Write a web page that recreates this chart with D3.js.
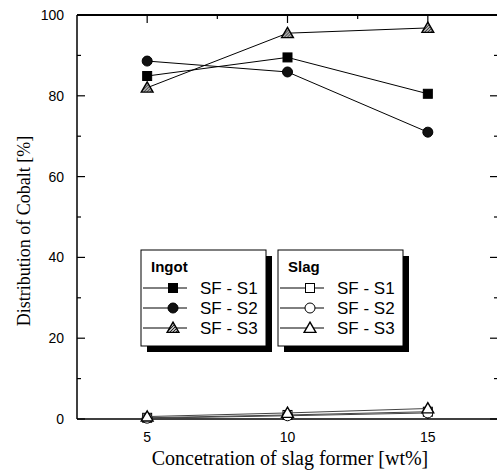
<!DOCTYPE html>
<html>
<head>
<meta charset="utf-8">
<script src="https://cdn.jsdelivr.net/npm/d3@7"></script>
<style>
  body { margin: 0; background: #fff; }
  svg { display: block; }
</style>
</head>
<body>
<div id="chart"></div>
<script>
// data
var concentrations = [5, 10, 15];
var seriesNames = ["SF - S1", "SF - S2", "SF - S3"];
var ingotS1 = [84.9, 89.5, 80.5];
var ingotS2 = [88.6, 85.9, 71.0];
var ingotS3 = [82.0, 95.5, 96.8];
var slagS1 = [0.3, 1.0, 1.8];
var slagS2 = [0.2, 0.8, 1.5];
var slagS3 = [0.6, 1.5, 2.6];
var xMajorTicks = [5, 10, 15];
var yMajorTicks = [0, 20, 40, 60, 80, 100];

var width = 497, height = 470;
var svg = d3.select("#chart").append("svg")
  .attr("width", width)
  .attr("height", height);

var defs = svg.append("defs");
var hatch = defs.append("pattern")
  .attr("id", "hatch")
  .attr("patternUnits", "userSpaceOnUse")
  .attr("width", 3).attr("height", 3);
hatch.append("rect").attr("width", 3).attr("height", 3).attr("fill", "#bbb");
hatch.append("path").attr("d", "M0,3 L3,0").attr("stroke", "#222").attr("stroke-width", 1);

// right edge of the frame sits just outside the window
var x = d3.scaleLinear().domain([2.5, 17.5]).range([77, 498]);
var y = d3.scaleLinear().domain([0, 100]).range([419, 15]);

var frame = svg.append("g");

// frame lines
frame.append("line").attr("x1", x(2.5)).attr("x2", x(2.5)).attr("y1", y(100)).attr("y2", y(0))
  .attr("stroke", "#000").attr("stroke-width", 1.5);
frame.append("line").attr("x1", x(2.5)).attr("x2", x(17.5)).attr("y1", y(100)).attr("y2", y(100))
  .attr("stroke", "#000").attr("stroke-width", 1.8);
frame.append("line").attr("x1", x(2.5)).attr("x2", x(17.5)).attr("y1", y(0)).attr("y2", y(0))
  .attr("stroke", "#000").attr("stroke-width", 1.5);

// y ticks (left and right, inward)
var yMinor = d3.range(10, 100, 20);
yMajorTicks.forEach(function(v) {
  frame.append("line").attr("x1", x(2.5)).attr("x2", x(2.5) + 8).attr("y1", y(v)).attr("y2", y(v))
    .attr("stroke", "#000").attr("stroke-width", 1.2);
  frame.append("line").attr("x1", x(17.5)).attr("x2", x(17.5) - 8).attr("y1", y(v)).attr("y2", y(v))
    .attr("stroke", "#000").attr("stroke-width", 1.2);
});
yMinor.forEach(function(v) {
  frame.append("line").attr("x1", x(2.5)).attr("x2", x(2.5) + 4).attr("y1", y(v)).attr("y2", y(v))
    .attr("stroke", "#000").attr("stroke-width", 1.2);
  frame.append("line").attr("x1", x(17.5)).attr("x2", x(17.5) - 4).attr("y1", y(v)).attr("y2", y(v))
    .attr("stroke", "#000").attr("stroke-width", 1.2);
});

// x ticks (top and bottom, inward)
xMajorTicks.forEach(function(v) {
  frame.append("line").attr("x1", x(v)).attr("x2", x(v)).attr("y1", y(100)).attr("y2", y(100) + 8)
    .attr("stroke", "#000").attr("stroke-width", 1.2);
  frame.append("line").attr("x1", x(v)).attr("x2", x(v)).attr("y1", y(0)).attr("y2", y(0) - 6)
    .attr("stroke", "#000").attr("stroke-width", 1.2);
});
[7.5, 12.5].forEach(function(v) {
  frame.append("line").attr("x1", x(v)).attr("x2", x(v)).attr("y1", y(100)).attr("y2", y(100) + 4)
    .attr("stroke", "#000").attr("stroke-width", 1.2);
});

// tick labels
frame.selectAll(".ylab").data(yMajorTicks).enter().append("text")
  .attr("x", 64).attr("y", function(d) { return y(d) + 5; })
  .attr("text-anchor", "end")
  .style("font-family", "Arial, 'Liberation Sans', sans-serif").style("font-size", "14px")
  .text(function(d) { return d; });
frame.selectAll(".xlab").data(xMajorTicks).enter().append("text")
  .attr("x", function(d) { return x(d); }).attr("y", 442)
  .attr("text-anchor", "middle")
  .style("font-family", "Arial, 'Liberation Sans', sans-serif").style("font-size", "14px")
  .text(function(d) { return d; });

// axis titles
svg.append("text")
  .attr("transform", "translate(30,231) rotate(-90)")
  .attr("text-anchor", "middle")
  .style("font-family", "'Liberation Serif', 'Times New Roman', serif").style("font-size", "18px")
  .text("Distribution of Cobalt [%]");
svg.append("text")
  .attr("x", 290).attr("y", 465)
  .attr("text-anchor", "middle")
  .style("font-family", "'Liberation Serif', 'Times New Roman', serif").style("font-size", "20px")
  .text("Concetration of slag former [wt%]");

// series
var line = d3.line()
  .x(function(d, i) { return x(concentrations[i]); })
  .y(function(d) { return y(d); });

function marker(g, shape, filled, cx, cy) {
  if (shape === "square") {
    g.append("rect").attr("x", cx - 4.5).attr("y", cy - 4.5).attr("width", 9).attr("height", 9)
      .attr("fill", filled ? "#000" : "#fff").attr("stroke", "#000").attr("stroke-width", 1);
  } else if (shape === "circle") {
    g.append("circle").attr("cx", cx).attr("cy", cy).attr("r", 5)
      .attr("fill", filled ? "#111" : "#fff").attr("stroke", "#000").attr("stroke-width", 1);
  } else {
    var s = d3.symbol().type(d3.symbolTriangle).size(60);
    g.append("path").attr("d", s).attr("transform", "translate(" + cx + "," + (cy + 1) + ")")
      .attr("fill", filled ? "url(#hatch)" : "#fff").attr("stroke", "#000").attr("stroke-width", 1.4);
  }
}

var series = [
  { values: slagS1, shape: "square", filled: false },
  { values: slagS2, shape: "circle", filled: false },
  { values: slagS3, shape: "triangle", filled: false },
  { values: ingotS1, shape: "square", filled: true },
  { values: ingotS2, shape: "circle", filled: true },
  { values: ingotS3, shape: "triangle", filled: true }
];

series.forEach(function(s) {
  var g = svg.append("g");
  g.append("path").datum(s.values).attr("d", line)
    .attr("fill", "none").attr("stroke", s.filled ? "#000" : "#444").attr("stroke-width", 1);
  s.values.forEach(function(v, i) {
    marker(g, s.shape, s.filled, x(concentrations[i]), y(v));
  });
});

// legends
function legend(x0, title, filled) {
  var g = svg.append("g").attr("transform", "translate(" + x0 + ",250)");
  var w = 125, h = 96;
  g.append("rect").attr("x", 6).attr("y", 6).attr("width", w).attr("height", h).attr("fill", "#000");
  g.append("rect").attr("x", 0).attr("y", 0).attr("width", w).attr("height", h)
    .attr("fill", "#fff").attr("stroke", "#000").attr("stroke-width", 1);
  g.append("text").attr("x", 10).attr("y", 22)
    .style("font-family", "Arial, 'Liberation Sans', sans-serif").style("font-size", "15px")
    .style("font-weight", "bold").text(title);
  var shapes = ["square", "circle", "triangle"];
  seriesNames.forEach(function(name, i) {
    var cy = 38 + i * 20;
    g.append("line").attr("x1", 2).attr("x2", 46).attr("y1", cy).attr("y2", cy)
      .attr("stroke", "#000").attr("stroke-width", 1);
    marker(g, shapes[i], filled, 32, cy);
    g.append("text").attr("x", 59).attr("y", cy + 6)
      .style("font-family", "Arial, 'Liberation Sans', sans-serif").style("font-size", "17px")
      .text(name);
  });
}
legend(141, "Ingot", true);
legend(278, "Slag", false);
</script>
</body>
</html>
